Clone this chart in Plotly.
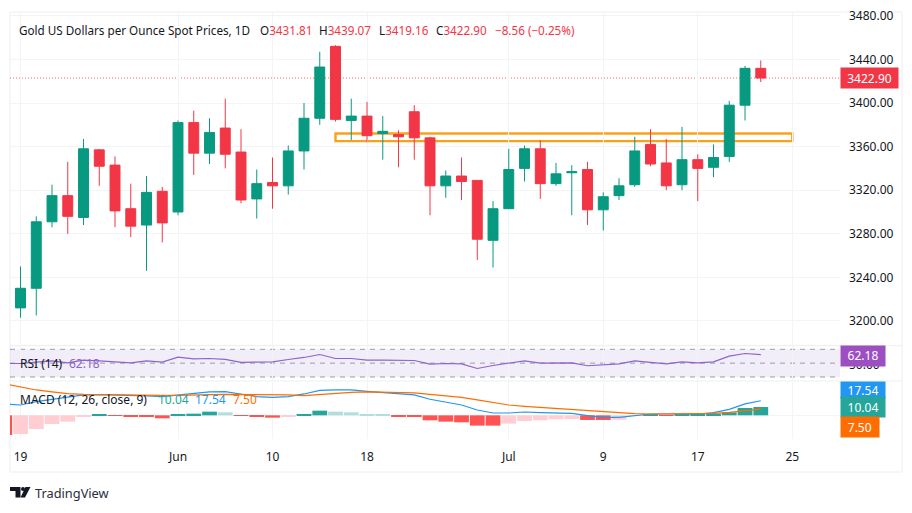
import plotly.graph_objects as go

# ---------- data ----------
opens  = [3212,3230,3291,3315,3295,3357,3343,3303,3288,3319,3300,3382,3354,3377,3355,3312,3327,3324,3356,3386,3452,3384,3388,3372,3371,3392,3368,3324,3333,3329,3274,3303,3340,3358,3326,3336,3339,3302,3315,3325,3362,3345,3325,3348,3341,3351,3398,3431.81]
highs  = [3250,3296,3325,3346,3367,3358,3351,3326,3333,3323,3384,3393,3386,3404,3376,3339,3350,3361,3400,3447,3453,3404,3401,3388,3375,3398,3369,3338,3350,3329,3310,3358,3361,3366,3345,3343,3346,3318,3331,3369,3376,3367,3378,3353,3362,3402,3434,3439.07]
lows   = [3203,3205,3286,3280,3288,3324,3286,3277,3246,3272,3297,3334,3344,3340,3308,3294,3303,3316,3339,3380,3383,3366,3364,3348,3341,3348,3297,3313,3311,3256,3249,3303,3328,3312,3324,3297,3288,3283,3311,3323,3342,3320,3320,3310,3332,3346,3384,3419.16]
closes = [3230,3291,3315,3296,3358,3342,3301,3287,3318,3290,3382,3354,3373,3353,3311,3326,3324,3356,3386,3433,3385,3388,3370,3374,3369,3368,3324,3333,3328,3275,3303,3339,3358,3326,3335,3337,3302,3314,3324,3356,3344,3324,3348,3340,3350,3398,3431.81,3422.90]
bars = list(range(len(closes)))

ind_bars = list(range(-1, len(closes)))
rsi_values = [49.5,49.5,51.4,53.4,50.5,54.3,53.4,52.4,50.5,53.4,51.4,58.7,56.3,56.7,55.3,51,51.4,51.9,55.3,58.2,62.5,56.7,56.7,54.3,54.3,53.8,53.8,48.6,49.5,49,42.3,46.6,50.5,53.4,50,50,50.5,46.2,48.1,49,53.4,51.4,49,51.9,50.5,51.9,60.1,63.9,62.18]
macd_values = [13.7,12.4,16.5,19.3,22.5,24.5,24.9,24.5,24.5,23.3,22.5,24.5,26.5,28.1,28.5,25.3,22.5,21.7,22.5,25.7,30.1,30.5,30.5,28.9,27.7,26.1,24.5,19.3,16.1,12.4,6.4,2.8,2.8,4,3.2,3.2,2.4,-0.4,-2.4,-2.4,0,1.6,1.6,1.6,1.6,3.2,7.2,13.7,17.54]
signal_values = [37.8,34.1,30.5,28.1,26.1,25.3,24.9,24.5,24.5,24.5,24.1,24.1,24.1,24.9,25.3,25.3,24.5,24.5,24.5,23.7,25.3,26.5,27.7,28.1,27.7,27.3,26.9,25.3,23.3,21.7,18.5,15.3,12.4,10.8,9.6,8.4,7.2,5.6,4,2.8,2,1.6,1.6,2,2,2.4,3.6,5.6,7.5]
hist_values = [-23.7,-22.5,-16.5,-10.4,-7.6,-2,0.6,-0.8,-2,-2,-3.6,1.6,2,4.4,3.6,-0.8,-1.6,-2.8,-2,1.6,5.6,4.4,3.6,1.6,1.2,-1.6,-2,-6,-7.6,-8.4,-12.4,-12.4,-10,-6.8,-6,-4.8,-4.4,-5.6,-5.6,-5.4,-0.8,0.4,-0.8,0.4,1.2,2,3.6,8.8,10.04]

x_tick_bars = [0,10,16,22,31,37,43,49]
x_tick_text = ["19","Jun","10","18","Jul","9","17","25"]
price_ticks = [3200,3240,3280,3320,3360,3400,3440,3480]
zone_bars = [20,49]
zone_prices = [3365,3372]
last_price = 3422.90
rsi_levels = [70,50,30]

# ---------- style ----------
W, H = 912, 513
GREEN, RED = "#089981", "#f23645"
TXT = "#131722"
GRID = "#f3f4f6"
FRAME = "#eceef1"
FONT = "Noto Sans"
def px(x): return x / W
def py(y): return 1 - y / H

XR = [-0.667, 52.03]
hist_colors = []
for i, v in enumerate(hist_values):
    prev = hist_values[i-1] if i else v - 1
    if v >= 0:
        hist_colors.append("#26a69a" if v >= prev else "#b2dfdb")
    else:
        hist_colors.append("#ff5252" if v <= prev else "#ffcdd2")
hist_colors[0] = "#ff5252"

fig = go.Figure()
fig.add_trace(go.Candlestick(x=bars, open=opens, high=highs, low=lows, close=closes, xaxis="x", yaxis="y",
    increasing=dict(line=dict(color=GREEN, width=1), fillcolor=GREEN),
    decreasing=dict(line=dict(color=RED, width=1), fillcolor=RED), showlegend=False, hoverinfo="skip"))
fig.add_trace(go.Scatter(x=ind_bars, y=rsi_values, mode="lines", xaxis="x2", yaxis="y2",
    line=dict(color="#8e63cc", width=1.2), showlegend=False, hoverinfo="skip"))
fig.add_trace(go.Bar(x=ind_bars, y=hist_values, xaxis="x3", yaxis="y3", marker=dict(color=hist_colors, line_width=0),
    showlegend=False, hoverinfo="skip"))
fig.add_trace(go.Scatter(x=ind_bars, y=macd_values, mode="lines", xaxis="x3", yaxis="y3",
    line=dict(color="#2196f3", width=1.2), showlegend=False, hoverinfo="skip"))
fig.add_trace(go.Scatter(x=ind_bars, y=signal_values, mode="lines", xaxis="x3", yaxis="y3",
    line=dict(color="#ff6d00", width=1.2), showlegend=False, hoverinfo="skip"))

def xax(**kw):
    d = dict(domain=[px(10), px(840)], range=XR, tickmode="array", tickvals=x_tick_bars, ticktext=x_tick_text,
             showgrid=True, gridcolor=GRID, gridwidth=1, zeroline=False, showline=False, ticks="", showticklabels=False)
    d.update(kw)
    return d

shapes = [
    dict(type="rect", xref="paper", yref="paper", x0=px(10), x1=px(902), y0=py(472), y1=py(12), line=dict(color=FRAME, width=1), layer="below"),
    dict(type="line", xref="paper", yref="paper", x0=px(10), x1=px(902), y0=py(345.7), y1=py(345.7), line=dict(color=FRAME, width=1), layer="below"),
    dict(type="line", xref="paper", yref="paper", x0=px(10), x1=px(902), y0=py(381), y1=py(381), line=dict(color=FRAME, width=1), layer="below"),
    dict(type="rect", xref="x2", yref="y2", x0=XR[0], x1=XR[1], y0=rsi_levels[2], y1=rsi_levels[0], fillcolor="rgba(126,87,194,0.1)", line_width=0, layer="below"),
    dict(type="line", xref="x", yref="y", x0=XR[0], x1=XR[1], y0=last_price, y1=last_price, line=dict(color="rgba(242,54,69,0.75)", width=1, dash="1px,2px"), layer="below"),
    dict(type="rect", xref="x", yref="y", x0=zone_bars[0], x1=zone_bars[1], y0=zone_prices[0], y1=zone_prices[1], line=dict(color="#f7a21b", width=2.4), layer="below"),
]
for lvl in rsi_levels:
    shapes.append(dict(type="line", xref="x2", yref="y2", x0=XR[0], x1=XR[1], y0=lvl, y1=lvl, line=dict(color="#9a9ca5", width=1, dash="5px,5px"), layer="below"))

# TradingView mark
def path(points):
    return "M " + " L ".join(f"{px(a):.5f},{py(b):.5f}" for a, b in points) + " Z"
shapes += [
    dict(type="path", xref="paper", yref="paper", path=path([(10,487),(20.5,487),(20.5,497.5),(15.5,497.5),(15.5,491),(10,491)]), fillcolor="#131722", line_width=0),
    dict(type="path", xref="paper", yref="paper", path=path([(25.5,487),(30.5,487),(25,497.5),(20.5,497.5)]), fillcolor="#131722", line_width=0),
    dict(type="circle", xref="paper", yref="paper", x0=px(21), x1=px(25), y0=py(491), y1=py(487), fillcolor="#131722", line_width=0),
]

def note(x, y, text, color=TXT, size=12, family=FONT):
    return dict(xref="paper", yref="paper", x=px(x), y=py(y), xanchor="left", yanchor="middle", text=text,
                showarrow=False, font=dict(family=family, size=size, color=color), borderpad=0)

def tag(x0, x1, y0, y1, text, color):
    return dict(xref="paper", yref="paper", x=px(x0), y=py((y0+y1)/2), xanchor="left", yanchor="middle", text=text,
                width=x1-x0, height=y1-y0, align="center", valign="middle", bgcolor=color, showarrow=False,
                font=dict(family=FONT, size=12, color="#ffffff"), borderpad=0)

def red(s): return f'<span style="color:{RED}">{s}</span>'
annotations = [
    note(18, 30, "Gold US Dollars per Ounce Spot Prices, 1D", size=11.7),
    note(259, 30, "O" + red("3431.81"), size=11.7),
    note(318.4, 30, "H" + red("3439.07"), size=11.7),
    note(377.7, 30, "L" + red("3419.16"), size=11.7),
    note(434.8, 30, "C" + red("3422.90"), size=11.7),
    note(493.7, 30, "−8.56 (−0.25%)", RED, size=11.7),
    note(19, 363.5, "RSI (14)"),
    note(68, 363.5, "62.18", "#8e63cc"),
    note(19, 399.5, "MACD (12, 26, close, 9)"),
    note(157, 399.5, "10.04", "#26a69a"),
    note(194, 399.5, "17.54", "#2196f3"),
    note(232, 399.5, "7.50", "#ff6d00"),
    note(34, 493, "TradingView", "#2a2e39", 12.8),
    note(848, 364.5, "50.00"),
    tag(840, 897, 67.7, 87.7, "3422.90", RED),
    tag(840, 884, 345.7, 365.3, "62.18", "#9c4fc0"),
    tag(840, 884, 381.5, 397.5, "17.54", "#2196f3"),
    tag(840, 884, 397, 417, "10.04", "#26a69a"),
    tag(840, 877.5, 416.7, 436.7, "7.50", "#ff6d00"),
]

fig.update_layout(
    width=W, height=H, margin=dict(l=0, r=0, t=0, b=0, autoexpand=False), paper_bgcolor="white", plot_bgcolor="white",
    showlegend=False, boxgap=0.1, bargap=0.06, font=dict(family=FONT, size=12, color=TXT),
    xaxis=xax(anchor="y", rangeslider=dict(visible=False)),
    xaxis2=xax(anchor="y2"),
    xaxis3=xax(anchor="y3", showticklabels=True, ticklabelstandoff=9, tickfont=dict(family=FONT, size=12, color=TXT)),
    yaxis=dict(domain=[py(345.7), py(12)], range=[3177.3, 3483.5], side="right", anchor="x", tickmode="array",
               tickvals=price_ticks, ticktext=[f"{v:.2f}" for v in price_ticks], showgrid=True, gridcolor=GRID,
               zeroline=False, ticks="", ticklabelstandoff=8, tickfont=dict(family=FONT, size=12, color=TXT)),
    yaxis2=dict(domain=[py(381), py(345.7)], range=[24.2, 75.2], anchor="x2", side="right", showticklabels=False,
                showgrid=False, zeroline=False, ticks=""),
    yaxis3=dict(domain=[py(439), py(381)], range=[-28.5, 41.3], anchor="x3", side="right", showticklabels=False,
                tickmode="array", tickvals=[0], showgrid=True, gridcolor=GRID, zeroline=False, ticks=""),
    shapes=shapes, annotations=annotations,
)

fig.write_html("out.html", config=dict(displayModeBar=False),
               post_script="document.body.style.margin='0';document.body.style.overflow='hidden';")
